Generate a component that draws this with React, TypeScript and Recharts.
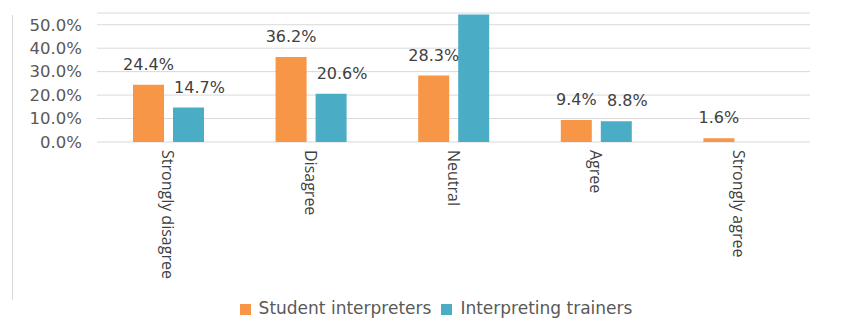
import {
  BarChart,
  Bar,
  XAxis,
  YAxis,
  CartesianGrid,
  Legend,
  LabelList,
} from "recharts";

const categories = [
  "Strongly disagree",
  "Disagree",
  "Neutral",
  "Agree",
  "Strongly agree",
];
const studentInterpreters = [24.4, 36.2, 28.3, 9.4, 1.6];
const interpretingTrainers = [14.7, 20.6, 54.4, 8.8, 0];
const yTicks = [0, 10, 20, 30, 40, 50];

const data = categories.map((category, i) => ({
  category,
  students: studentInterpreters[i],
  trainers: interpretingTrainers[i],
}));

const WIDE = "'DejaVu Sans', sans-serif";
const NARROW = "'Open Sans', 'Noto Sans', sans-serif";

// excel-ish data labels; the clipped neutral value and zeros get no label
const makeLabel = (dx: number) => (props: any) => {
  const { x, y, width, value } = props;
  if (!value || value > 50) return null;
  return (
    <text
      x={Number(x) + Number(width) / 2 + dx}
      y={Number(y) - 15}
      textAnchor="middle"
      fill="#404040"
      fontSize={16}
      fontFamily={WIDE}
    >
      {`${Number(value).toFixed(1)}%`}
    </text>
  );
};

const XTick = (props: any) => {
  const { x, y, payload } = props;
  return (
    <text
      x={x}
      y={y}
      transform={`rotate(90, ${x}, ${y})`}
      dominantBaseline="central"
      textAnchor="start"
      fill="#404040"
      fontSize={16}
      fontFamily={NARROW}
    >
      {payload.value}
    </text>
  );
};

export default function App() {
  return (
    <div
      style={{
        position: "absolute",
        left: 0,
        top: 0,
        width: 859,
        height: 333,
        background: "#fff",
        fontFamily: WIDE,
      }}
    >
      <div
        style={{
          position: "absolute",
          left: 12,
          top: 15,
          height: 285,
          borderLeft: "1px solid #d9d9d9",
        }}
      />
      <BarChart
        width={859}
        height={333}
        data={data}
        margin={{ top: 13, right: 49, left: 0, bottom: 41 }}
        barSize={31}
        barGap={9}
      >
        <CartesianGrid vertical={false} stroke="#d9d9d9" />
        <XAxis
          dataKey="category"
          tick={<XTick />}
          tickLine={false}
          axisLine={false}
          interval={0}
          height={150}
        />
        <YAxis
          width={97}
          domain={[0, 55]}
          ticks={yTicks}
          interval={0}
          allowDataOverflow
          tickFormatter={(v: number) => `${v.toFixed(1)}%`}
          tickLine={false}
          axisLine={false}
          tickSize={0}
          tickMargin={15}
          tick={{ fill: "#595959", fontSize: 16.5, fontFamily: WIDE }}
        />
        <Legend
          verticalAlign="middle"
          align="center"
          iconType="square"
          iconSize={11}
          itemSorter="dataKey"
          wrapperStyle={{ top: 298, left: 0, width: 882 }}
          formatter={(value: string) => (
            <span
              style={{
                color: "#595959",
                fontSize: 17,
                fontFamily: WIDE,
                marginLeft: 4,
              }}
            >
              {value}
            </span>
          )}
        />
        <Bar
          dataKey="students"
          name="Student interpreters"
          fill="#f79646"
          isAnimationActive={false}
        >
          <LabelList dataKey="students" content={makeLabel(0)} />
        </Bar>
        <Bar
          dataKey="trainers"
          name="Interpreting trainers"
          fill="#4bacc6"
          isAnimationActive={false}
        >
          <LabelList dataKey="trainers" content={makeLabel(11)} />
        </Bar>
      </BarChart>
    </div>
  );
}
